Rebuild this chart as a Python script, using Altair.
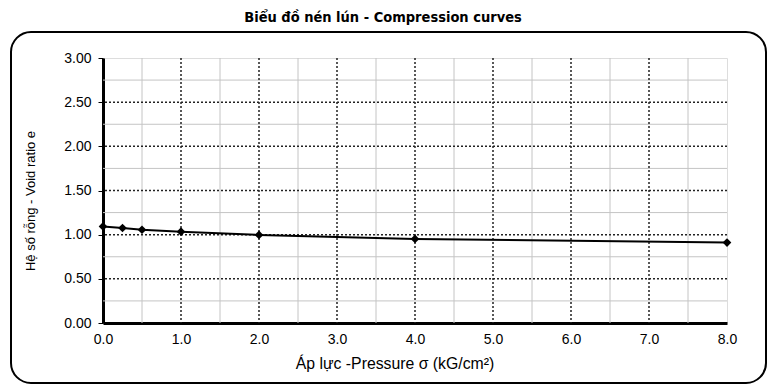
import altair as alt
import pandas as pd

# Data
pressure = [0.0, 0.25, 0.5, 1.0, 2.0, 4.0, 8.0]
void_ratio = [1.093, 1.075, 1.056, 1.034, 0.997, 0.952, 0.910]

x_ticks = [0, 1, 2, 3, 4, 5, 6, 7, 8]
y_ticks = [0.0, 0.5, 1.0, 1.5, 2.0, 2.5, 3.0]
x_minor = [0.5, 1.5, 2.5, 3.5, 4.5, 5.5, 6.5, 7.5]
y_minor = [0.25, 0.75, 1.25, 1.75, 2.25, 2.75]
x_major = [1, 2, 3, 4, 5, 6, 7]
y_major = [0.5, 1.0, 1.5, 2.0, 2.5]

title_text = "Biểu đồ nén lún - Compression curves"
x_title = "Áp lực -Pressure σ (kG/cm²)"
y_title = "Hệ số rỗng - Void ratio e"

W, H = 624, 265
xs = alt.Scale(domain=[0, 8], nice=False, zero=False)
ys = alt.Scale(domain=[0, 3], nice=False, zero=False)

df = pd.DataFrame({"p": pressure, "e": void_ratio})

xminor = alt.Chart(pd.DataFrame({"v": x_minor})).mark_rule(color="#c4c4c4", strokeWidth=1).encode(
    x=alt.X("v:Q", scale=xs))
yminor = alt.Chart(pd.DataFrame({"v": y_minor})).mark_rule(color="#c4c4c4", strokeWidth=1).encode(
    y=alt.Y("v:Q", scale=ys))
xmajor = alt.Chart(pd.DataFrame({"v": x_major})).mark_rule(color="#222", strokeWidth=1.5, strokeDash=[2, 2]).encode(
    x=alt.X("v:Q", scale=xs))
ymajor = alt.Chart(pd.DataFrame({"v": y_major})).mark_rule(color="#222", strokeWidth=1.5, strokeDash=[2, 2]).encode(
    y=alt.Y("v:Q", scale=ys))

line = alt.Chart(df).mark_line(
    color="black", strokeWidth=2,
    point=alt.OverlayMarkDef(shape="diamond", filled=True, color="black", size=75),
).encode(
    x=alt.X("p:Q", scale=xs, axis=alt.Axis(
        values=x_ticks, format=".1f", title=None, grid=False, ticks=False, labelFlush=False,
        labelPadding=9, labelFontSize=14, labelFont="Liberation Sans", labelColor="black",
        domainColor="black", domainWidth=3)),
    y=alt.Y("e:Q", scale=ys, axis=alt.Axis(
        values=y_ticks, format=".2f", title=None, grid=False, ticks=True, tickSize=5,
        tickColor="black", tickWidth=1, labelPadding=7, labelFontSize=14, labelFlush=False,
        labelFont="Liberation Sans", labelColor="black",
        domainColor="black", domainWidth=3)),
)

one = pd.DataFrame({"k": [0]})
frame = alt.Chart(one).mark_rect(
    fillOpacity=0, stroke="black", strokeWidth=2, cornerRadius=20
).encode(x=alt.value(-92), x2=alt.value(663), y=alt.value(-26), y2=alt.value(325))

title = alt.Chart(one).mark_text(
    font="DejaVu Sans Condensed", fontWeight="bold", fontSize=14.5, color="black", align="center", baseline="middle"
).encode(x=alt.value(280), y=alt.value(-40), text=alt.value(title_text))

xt = alt.Chart(one).mark_text(
    font="Liberation Sans", fontSize=15.8, color="black", align="center", baseline="middle"
).encode(x=alt.value(292), y=alt.value(306), text=alt.value(x_title))

yt = alt.Chart(one).mark_text(
    font="Liberation Sans", fontSize=13, color="black", align="center", baseline="middle", angle=270
).encode(x=alt.value(31 - 103), y=alt.value(201 - 58), text=alt.value(y_title))

chart = alt.layer(xminor, yminor, xmajor, ymajor, line, frame, title, xt, yt).properties(
    width=W, height=H,
    autosize=alt.AutoSizeParams(type="none"),
    padding={"left": 95, "top": 50, "right": 43, "bottom": 61},
).configure_view(stroke="black", strokeWidth=2).configure(background="white")

chart.save("out.html", embed_options={"renderer": "svg", "actions": False})
